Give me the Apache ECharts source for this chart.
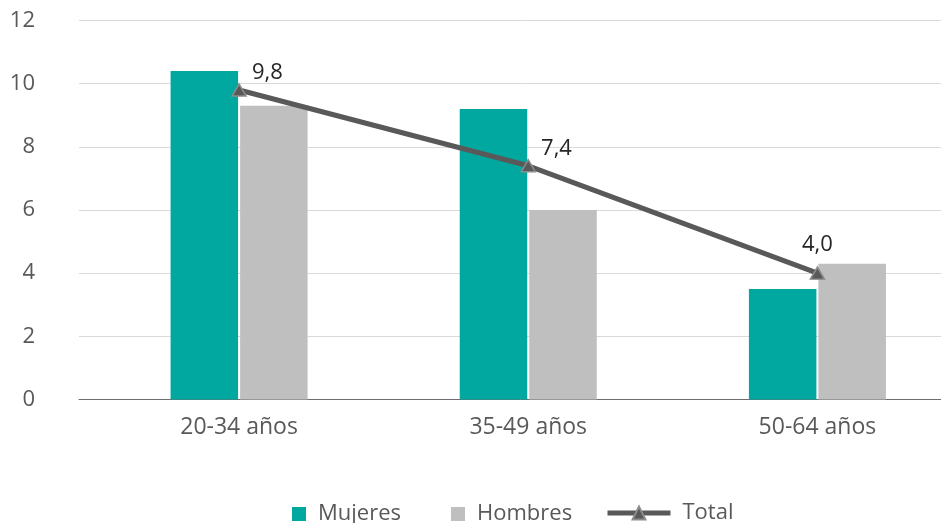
<!DOCTYPE html>
<html>
<head>
<meta charset="utf-8">
<script src="https://cdn.jsdelivr.net/npm/echarts@6/dist/echarts.min.js"></script>
<style>
html,body{margin:0;padding:0;background:#fff;overflow:hidden;}
#c{width:962px;height:523px;}
</style>
</head>
<body>
<div id="c"></div>
<script>
const categories = ['20-34 años', '35-49 años', '50-64 años'];
const mujeres = [10.4, 9.2, 3.5];
const hombres = [9.3, 6.0, 4.3];
const total = [9.8, 7.4, 4.0];
const yTicks = [0, 2, 4, 6, 8, 10, 12];

const FONT = '"Open Sans", "Noto Sans", sans-serif';
const chart = echarts.init(document.getElementById('c'), null, {renderer: 'canvas'});
const fmt = v => v.toFixed(1).replace('.', ',');

const option = {
  animation: false,
  textStyle: {fontFamily: FONT},
  grid: [
    {left: 79, right: 0, top: 20.5, bottom: 123.5},
    {left: 94.5, right: 0, top: 20.5, bottom: 123.5}
  ],
  xAxis: [
    {gridIndex: 0, type: 'category', data: categories,
     axisLine: {show: true, lineStyle: {color: '#6e6e6e', width: 1}},
     axisTick: {show: false}, axisLabel: {show: false}, splitLine: {show: false}},
    {gridIndex: 1, type: 'category', data: categories,
     axisLine: {show: false}, axisTick: {show: false},
     axisLabel: {color: '#595959', fontSize: 23, fontFamily: FONT, margin: 16}}
  ],
  yAxis: [
    {gridIndex: 0, type: 'value', min: yTicks[0], max: yTicks[yTicks.length - 1], interval: 2,
     axisLine: {show: false}, axisTick: {show: false},
     axisLabel: {color: '#595959', fontSize: 22, fontFamily: FONT, margin: 44},
     splitLine: {lineStyle: {color: '#d9d9d9', width: 1}}},
    {gridIndex: 1, type: 'value', min: yTicks[0], max: yTicks[yTicks.length - 1], interval: 2,
     show: false, splitLine: {show: false}}
  ],
  legend: [
    {data: ['Mujeres', 'Hombres'], left: 292, top: 503, padding: 0, itemWidth: 14, itemHeight: 14, itemGap: 50,
     icon: 'rect',
     textStyle: {color: '#595959', fontSize: 22, fontFamily: FONT, padding: [0, 0, 0, 7]}},
    {data: ['Total'], left: 605, top: 502, padding: 0, itemWidth: 63, itemHeight: 16,
     lineStyle: {width: 5},
     textStyle: {color: '#595959', fontSize: 22, fontFamily: FONT, padding: [0, 0, 0, 7]}}
  ],
  series: [
    {name: 'Mujeres', type: 'bar', xAxisIndex: 1, yAxisIndex: 1, data: mujeres,
     barWidth: 67.5, barGap: '3%', itemStyle: {color: '#00a8a0'}},
    {name: 'Hombres', type: 'bar', xAxisIndex: 1, yAxisIndex: 1, data: hombres,
     barWidth: 67.5, itemStyle: {color: '#bfbfbf'}},
    {name: 'Total', type: 'line', xAxisIndex: 1, yAxisIndex: 1,
     data: total.map((v, i) => i === total.length - 1
       ? {value: v, label: {position: 'top', distance: 11, offset: [0, 0]}}
       : v),
     symbol: 'triangle', symbolSize: [14, 12],
     lineStyle: {color: '#595959', width: 5},
     itemStyle: {color: '#595959', borderColor: '#8c8c8c', borderWidth: 1.5},
     label: {show: true, position: 'right', distance: 5, offset: [0, -17],
       color: '#262626', fontSize: 22, fontFamily: FONT,
       formatter: p => fmt(p.value)},
     z: 5}
  ]
};
chart.setOption(option);
</script>
</body>
</html>
